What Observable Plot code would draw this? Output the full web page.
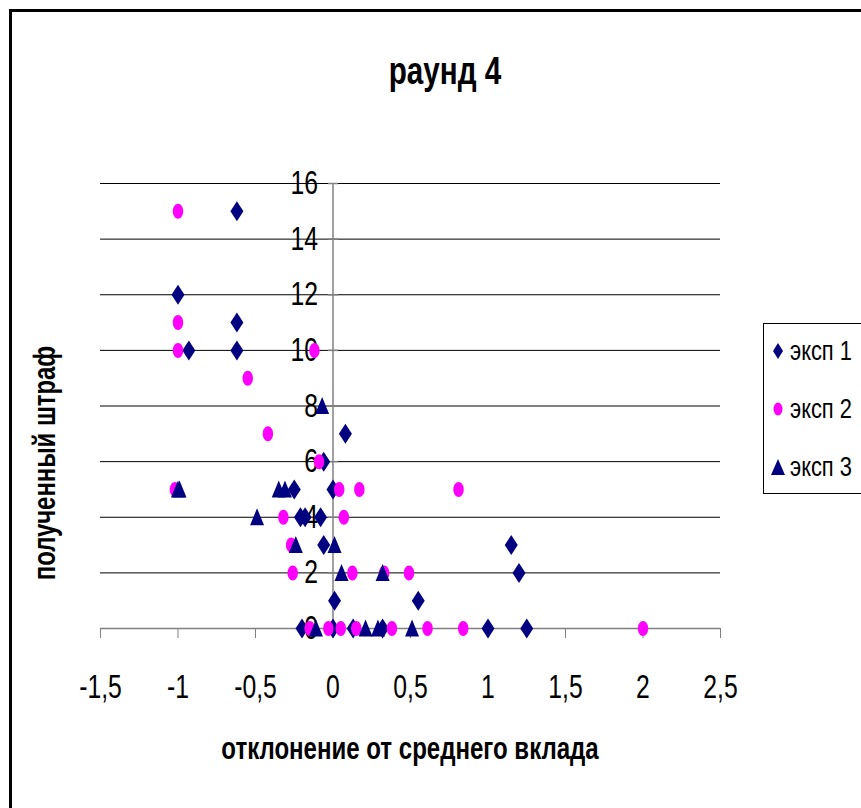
<!DOCTYPE html>
<html>
<head>
<meta charset="utf-8">
<script src="https://cdn.jsdelivr.net/npm/d3@7"></script>
<script src="https://cdn.jsdelivr.net/npm/@observablehq/plot@0.6"></script>
<style>
  html, body { margin: 0; padding: 0; background: #fff; }
  #wrap { position: relative; width: 861px; height: 808px; overflow: hidden; background: #fff; }
  #frame { position: absolute; left: 9px; top: 9px; width: 900px; height: 900px; border: 3px solid #000; box-sizing: border-box; }
  #chart { position: absolute; left: 0; top: 0; }
  .lbl { position: absolute; font-family: 'Liberation Sans', Arial, sans-serif; font-weight: bold; color: #000; white-space: nowrap; }
  #title { left: 0; width: 890px; top: 50px; text-align: center; font-size: 38px; transform: scaleX(0.78); }
  #xlabel { left: 0; width: 820px; top: 731px; text-align: center; font-size: 31px; transform: scaleX(0.775); }
  #ylabel { left: 45px; top: 463px; font-size: 31px; transform: translate(-50%, -50%) rotate(-90deg) scaleX(0.77); }
  #legend { position: absolute; left: 763px; top: 323px; width: 140px; height: 171px; border: 1.5px solid #000; background: #fff; box-sizing: border-box; }
  .item { position: absolute; left: 6px; height: 30px; display: flex; align-items: center; font-family: 'Liberation Sans', Arial, sans-serif; font-size: 28px; color: #000; white-space: nowrap; }
  .item svg { margin-right: 4px; }
  .item span { display: inline-block; transform: scaleX(0.78); transform-origin: left center; }
</style>
</head>
<body>
<div id="wrap">
  <div id="frame"></div>
  <div id="chart"></div>
  <div class="lbl" id="title">раунд 4</div>
  <div class="lbl" id="xlabel">отклонение от среднего вклада</div>
  <div class="lbl" id="ylabel">полученный штраф</div>
  <div id="legend"></div>
</div>
<script>
// ---- data ----
const seriesNames = ["эксп 1", "эксп 2", "эксп 3"];
const exp1X = [-0.62, -1.0, -0.62, -0.93, -0.62, 0.08, -0.06, -0.25, 0.0, -0.21, -0.18, -0.08, -0.06, 0.01, 0.55, 1.15, 1.2, -0.2, 0.0, 0.13, 0.32, 1.0, 1.25];
const exp1Y = [15, 12, 11, 10, 10, 7, 6, 5, 5, 4, 4, 4, 3, 1, 1, 3, 2, 0, 0, 0, 0, 0, 0];
const exp2X = [-1.0, -1.0, -1.0, -0.12, -0.55, -0.42, -0.09, -1.02, 0.04, 0.17, 0.81, -0.32, 0.07, -0.27, -0.26, 0.125, 0.33, 0.49, -0.15, -0.03, 0.05, 0.15, 0.38, 0.61, 0.84, 2.0];
const exp2Y = [15, 11, 10, 10, 9, 7, 6, 5, 5, 5, 5, 4, 4, 3, 2, 2, 2, 2, 0, 0, 0, 0, 0, 0, 0, 0];
const exp3X = [-0.07, -1.0, -0.99, -0.35, -0.31, -0.49, -0.24, 0.01, 0.055, 0.32, -0.11, 0.21, 0.29, 0.51];
const exp3Y = [8, 5, 5, 5, 5, 4, 3, 3, 2, 2, 0, 0, 0, 0];
const xTicks = [-1.5, -1, -0.5, 0, 0.5, 1, 1.5, 2, 2.5];
const yTicks = [0, 2, 4, 6, 8, 10, 12, 14, 16];

// ---- symbols ----
const NAVY = "#000080", MAGENTA = "#FF00FF";
const diamondSym = { draw(ctx) { ctx.moveTo(0, -10); ctx.lineTo(6.5, 0); ctx.lineTo(0, 10); ctx.lineTo(-6.5, 0); ctx.closePath(); } };
const ellipseSym = { draw(ctx) {
  const rx = 5.2, ry = 7.5, k = 0.5523;
  ctx.moveTo(rx, 0);
  ctx.bezierCurveTo(rx, ry * k, rx * k, ry, 0, ry);
  ctx.bezierCurveTo(-rx * k, ry, -rx, ry * k, -rx, 0);
  ctx.bezierCurveTo(-rx, -ry * k, -rx * k, -ry, 0, -ry);
  ctx.bezierCurveTo(rx * k, -ry, rx, -ry * k, rx, 0);
  ctx.closePath();
} };
const triangleSym = { draw(ctx) { ctx.moveTo(0, -9); ctx.lineTo(7, 8); ctx.lineTo(-7, 8); ctx.closePath(); } };
const hTickSym = { draw(ctx) { ctx.moveTo(-5, 0); ctx.lineTo(5, 0); } };

const toRows = (xs, ys) => xs.map((x, i) => ({x, y: ys[i]}));
const s1 = toRows(exp1X, exp1Y), s2 = toRows(exp2X, exp2Y), s3 = toRows(exp3X, exp3Y);
const fmt = d => String(d).replace(".", ",");
const FONT = "'Liberation Sans', Arial, sans-serif";

const chart = Plot.plot({
  width: 861, height: 808,
  marginLeft: 100, marginRight: 141, marginTop: 183, marginBottom: 180,
  x: {domain: [-1.5, 2.5]},
  y: {domain: [0, 16], axis: null},
  style: {background: "transparent", overflow: "visible"},
  marks: [
    Plot.ruleY(yTicks.filter(d => d > 0), {stroke: "#000", strokeWidth: 1}),
    Plot.ruleY([0], {stroke: "#808080", strokeWidth: 1.5}),
    Plot.ruleX([0], {stroke: "#808080", strokeWidth: 1.5}),
    Plot.dot(yTicks, {x: 0, y: d => d, symbol: hTickSym, stroke: "#808080", strokeWidth: 1.5, fill: "none"}),
    Plot.axisX({ticks: xTicks, tickFormat: fmt, tickSize: 10, tickPadding: 36, stroke: "#808080", fontSize: 33, fontFamily: FONT, label: null}),
    Plot.text(yTicks, {x: 0, y: d => d, text: fmt, textAnchor: "end", dx: -15, fontSize: 33, fontFamily: FONT}),
    Plot.dot(s1, {x: "x", y: "y", symbol: diamondSym, fill: NAVY, stroke: "none"}),
    Plot.dot(s2, {x: "x", y: "y", symbol: ellipseSym, fill: MAGENTA, stroke: "none"}),
    Plot.dot(s3, {x: "x", y: "y", symbol: triangleSym, fill: NAVY, stroke: "none"})
  ]
});
document.getElementById("chart").appendChild(chart);

// condense tick labels horizontally (Arial Narrow look), around their anchor
chart.querySelectorAll("text").forEach(t => {
  const b = t.getBBox();
  const anchor = t.getAttribute("text-anchor") || (t.parentNode && t.parentNode.getAttribute("text-anchor")) || "middle";
  const cx = anchor === "end" ? b.x + b.width : anchor === "start" ? b.x : b.x + b.width / 2;
  const prev = t.getAttribute("transform") || "";
  t.setAttribute("transform", prev + ` translate(${cx},0) scale(0.75,1) translate(${-cx},0)`);
});

// ---- legend ----
const legendSyms = [
  '<svg width="16" height="22" viewBox="-8 -11 16 22"><path d="M0,-8L5,0L0,8L-5,0Z" fill="' + NAVY + '"/></svg>',
  '<svg width="16" height="22" viewBox="-8 -11 16 22"><ellipse cx="0" cy="0" rx="4.5" ry="6.5" fill="' + MAGENTA + '"/></svg>',
  '<svg width="16" height="22" viewBox="-8 -11 16 22"><path d="M0,-8L7,8L-7,8Z" fill="' + NAVY + '"/></svg>'
];
const legend = document.getElementById("legend");
seriesNames.forEach((name, i) => {
  const it = document.createElement("div");
  it.className = "item";
  it.style.top = (12 + i * 58) + "px";
  it.innerHTML = legendSyms[i] + "<span>" + name + "</span>";
  legend.appendChild(it);
});
</script>
</body>
</html>
